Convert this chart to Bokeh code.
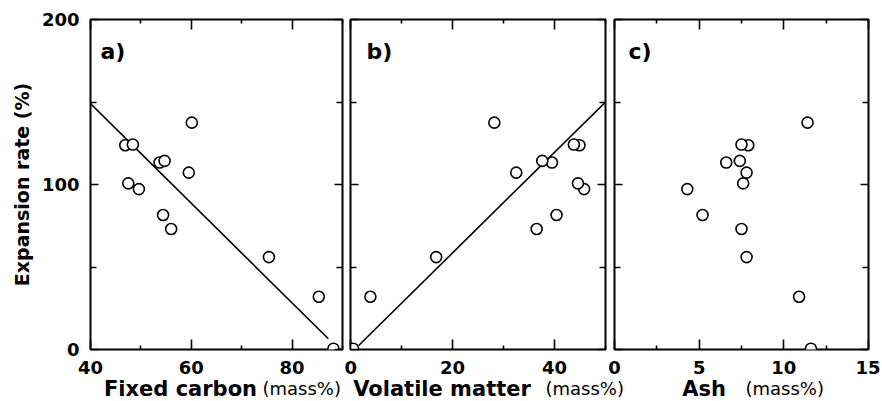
from bokeh.plotting import figure
from bokeh.models import LinearAxis, FixedTicker, Label, Range1d
from bokeh.layouts import row, column
from bokeh.embed import file_html
from bokeh.resources import INLINE

# ---- data (13 coal samples) ----
fixed_carbon = [60.1, 88.2, 85.3, 75.4, 56.0, 54.4, 49.6, 47.5, 59.5, 53.7, 54.7, 46.9, 48.4]
volatile_matter = [28.2, 0.5, 3.9, 16.8, 36.5, 40.4, 45.8, 44.6, 32.5, 39.5, 37.6, 44.9, 43.8]
ash = [11.4, 11.6, 10.9, 7.8, 7.5, 5.2, 4.3, 7.6, 7.8, 6.6, 7.4, 7.9, 7.5]
expansion_rate = [137.5, 0.5, 32.0, 56.0, 73.0, 81.5, 97.2, 100.7, 107.2, 113.3, 114.3, 123.8, 124.2]

# regression lines (end points)
fc_fit_x = [40.0, 87.2]
fc_fit_y = [149.0, 6.5]
vm_fit_x = [1.6, 50.0]
vm_fit_y = [2.4, 150.0]

y_major = [0, 100, 200]
y_minor = [50, 150]

x_titles = ["Fixed carbon", "Volatile matter", "Ash"]
x_unit = "(mass%)"

FONT = "DejaVu Sans"
H = 382


def styled_axis(axis, major_in, minor_in, show_labels):
    axis.axis_line_color = None
    axis.major_tick_in = major_in
    axis.major_tick_out = 0
    axis.minor_tick_in = minor_in
    axis.minor_tick_out = 0
    axis.major_tick_line_width = 1.6
    axis.minor_tick_line_width = 1.6
    axis.major_tick_line_color = "black"
    axis.minor_tick_line_color = "black"
    if show_labels:
        axis.major_label_text_font = FONT
        axis.major_label_text_font_style = "bold"
        axis.major_label_text_font_size = "18px"
        axis.major_label_text_color = "black"
    else:
        axis.major_label_text_font_size = "0px"
        axis.major_label_standoff = 0


def panel(xs, x_start, x_end, x_major, x_minor, width, bl, br, show_y, letter, letter_x,
          fit_x=None, fit_y=None):
    p = figure(width=width, height=H, output_backend="svg", toolbar_location=None,
               x_range=Range1d(x_start, x_end), y_range=Range1d(0, 200),
               min_border_left=bl, min_border_right=br, min_border_top=19, min_border_bottom=H - 349)
    p.grid.visible = False
    p.outline_line_color = "black"
    p.outline_line_width = 2
    p.border_fill_color = None
    p.background_fill_color = None

    p.xaxis.ticker = FixedTicker(ticks=x_major, minor_ticks=x_minor)
    p.yaxis.ticker = FixedTicker(ticks=y_major, minor_ticks=y_minor)
    styled_axis(p.xaxis[0], 10, 4, True)
    p.xaxis.major_label_standoff = 11
    styled_axis(p.yaxis[0], 8, 6, show_y)
    if show_y:
        p.yaxis.major_label_standoff = 11
        p.yaxis.axis_label = "Expansion rate (%)"
        p.yaxis.axis_label_text_font = FONT
        p.yaxis.axis_label_text_font_style = "bold"
        p.yaxis.axis_label_text_font_size = "19px"
        p.yaxis.axis_label_text_color = "black"
        p.yaxis.axis_label_standoff = 6
    else:
        p.yaxis.major_label_overrides = {t: "" for t in y_major}

    top = LinearAxis(ticker=FixedTicker(ticks=x_major, minor_ticks=x_minor))
    styled_axis(top, 10, 4, False)
    top.major_label_overrides = {t: "" for t in x_major}
    p.add_layout(top, "above")
    right = LinearAxis(ticker=FixedTicker(ticks=y_major, minor_ticks=y_minor))
    styled_axis(right, 8, 6, False)
    right.major_label_overrides = {t: "" for t in y_major}
    p.add_layout(right, "right")

    if fit_x is not None:
        p.line(fit_x, fit_y, line_color="black", line_width=1.6)
    p.scatter(xs, expansion_rate, marker="circle", size=11, fill_color="white",
              line_color="black", line_width=1.6)

    p.add_layout(Label(x=letter_x, y=180.6, text=letter, text_font=FONT, text_font_style="bold",
                       text_font_size="22px", text_baseline="alphabetic", text_color="black"))
    return p


pa = panel(fixed_carbon, 40, 90, [40, 60, 80], [50, 70, 90], 352, 90, 10, True, "a)", 41.98,
           fc_fit_x, fc_fit_y)
pb = panel(volatile_matter, 0, 50, [0, 20, 40], [10, 30, 50], 286, 6, 25, False, "b)", 3.14,
           vm_fit_x, vm_fit_y)
pc = panel(ash, 0, 15, [0, 5, 10, 15], [2.5, 7.5, 12.5], 274, 8, 12, False, "c)", 0.83)

pb.margin = (0, 0, 0, -8)
pc.margin = (0, 0, 0, -24)

# strip below the panels that carries the x-axis titles (bold name + plain unit)
strip = figure(width=872, height=23, output_backend="svg", toolbar_location=None,
               x_range=Range1d(0, 872), y_range=Range1d(0, 23),
               min_border=0, min_border_left=0, min_border_right=0,
               min_border_top=0, min_border_bottom=0)
strip.axis.visible = False
strip.grid.visible = False
strip.outline_line_color = None
strip.border_fill_color = None
strip.background_fill_color = None
strip.margin = (-4, 0, 0, 0)

name_centers = [180, 441.5, 703.5]
unit_lefts = [262, 545, 745]
for name, cx, ux in zip(x_titles, name_centers, unit_lefts):
    strip.add_layout(Label(x=cx, y=13, text=name, text_font=FONT, text_font_style="bold",
                           text_font_size="21px", text_align="center",
                           text_baseline="alphabetic", text_color="black"))
    strip.add_layout(Label(x=ux, y=13, text=x_unit, text_font=FONT, text_font_size="18px",
                           text_align="left", text_baseline="alphabetic", text_color="black"))

layout = column(row(pa, pb, pc), strip)
open("out.html", "w").write(file_html(layout, INLINE))
